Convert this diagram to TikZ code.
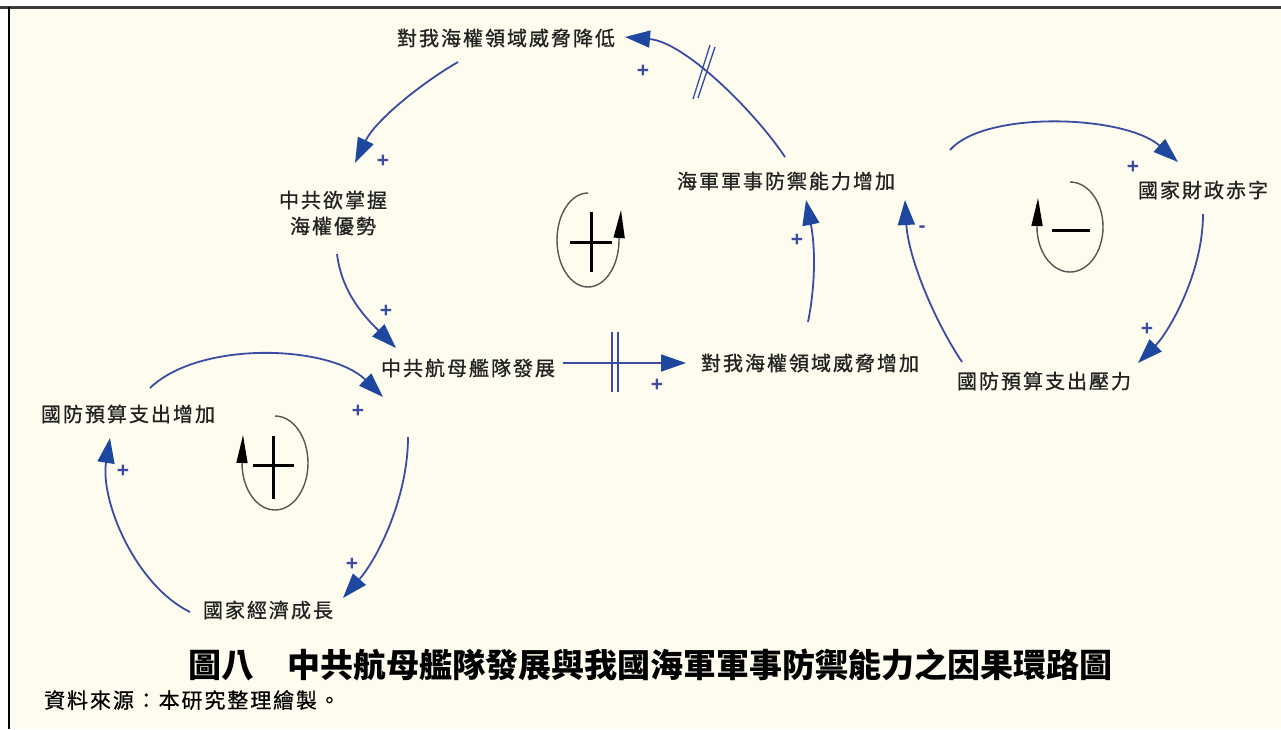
\documentclass[tikz,border=0pt]{standalone}
\usepackage{fontspec}
\usetikzlibrary{arrows.meta}
\newfontfamily\lblfont[LetterSpace=10,FakeBold=0.9]{Noto Sans CJK TC}
\newfontfamily\ttlfont{Noto Sans CJK TC}
\newfontfamily\srcfont[LetterSpace=9,FakeBold=0.6]{Noto Sans CJK TC}
\newfontfamily\signfont{Liberation Sans}
\definecolor{bgcream}{RGB}{254,252,238}
\definecolor{arrowblue}{RGB}{58,76,164}
\definecolor{headblue}{RGB}{30,72,160}
\definecolor{txtgray}{RGB}{34,34,34}
\definecolor{loopgray}{RGB}{85,85,85}
\definecolor{framegray}{RGB}{60,60,60}
\tikzset{
  lbl/.style={font=\lblfont\fontsize{20}{26}\selectfont, text=txtgray, inner sep=0pt, align=center},
  conn/.style={draw=arrowblue, line width=1.8pt, -{Triangle[length=25pt,width=17pt,color=headblue]}},
  polsign/.style={font=\signfont\bfseries\fontsize{21}{21}\selectfont, text=arrowblue, inner sep=0pt},
  loopln/.style={draw=loopgray, line width=1.4pt, -{Triangle[length=28pt,width=11pt,color=black]}},
  barln/.style={draw=black, line width=3pt},
  delayln/.style={draw=arrowblue, line width=1.3pt}
}
\begin{document}
\begin{tikzpicture}[x=1pt,y=-1pt]
\useasboundingbox (0,0) rectangle (1281,729);
\fill[white] (0,0) rectangle (1281,729);
\fill[bgcream] (10,7) rectangle (1281,729);
\draw[line width=3pt, framegray] (0,7) -- (1281,7);
\draw[line width=2pt, black] (9,7) -- (9,729);

% variables
\node[lbl] (A) at (506,38) {對我海權領域威脅降低};
\node[lbl] (B) at (333,213) {中共欲掌握\\海權優勢};
\node[lbl] (C) at (786,181) {海軍軍事防禦能力增加};
\node[lbl] (D) at (1203,190) {國家財政赤字};
\node[lbl] (E) at (1044,381) {國防預算支出壓力};
\node[lbl] (F) at (810,363) {對我海權領域威脅增加};
\node[lbl] (G) at (468,368) {中共航母艦隊發展};
\node[lbl] (H) at (128,414) {國防預算支出增加};
\node[lbl] (I) at (268,610) {國家經濟成長};

% connectors
\draw[conn] ([shift={(-48,24)}]A.center) .. controls +(-38,22) and +(20,-42) .. ([shift={(22,-50)}]B.center);
\draw[conn] ([shift={(4,41)}]B.center) .. controls +(5,40) and +(-30,-30) .. ([shift={(-72,-20)}]G.center);
\draw[conn] ([shift={(95,-5)}]G.center) -- ([shift={(-124,0)}]F.center);
\draw[conn] ([shift={(-2,-41)}]F.center) .. controls +(8,-40) and +(9,45) .. ([shift={(20,19)}]C.center);
\draw[conn] ([shift={(-1,-24)}]C.center) .. controls +(-30,-45) and +(60,5) .. ([shift={(119,-1)}]A.center);
\draw[conn] ([shift={(-82,-19)}]E.center) .. controls +(-30,-45) and +(3,55) .. ([shift={(119,19)}]C.center);
\draw[conn] ([shift={(164,-31)}]C.center) .. controls +(35,-40) and +(-53,-47) .. ([shift={(-25,-28)}]D.center);
\draw[conn] ([shift={(0,24)}]D.center) .. controls +(0,60) and +(30,-30) .. ([shift={(94,-18)}]E.center);
\draw[conn] ([shift={(22,-26)}]H.center) .. controls +(50,-48) and +(-53,-52) .. ([shift={(-85,29)}]G.center);
\draw[conn] ([shift={(-60,69)}]G.center) .. controls +(0,60) and +(35,-40) .. ([shift={(75,-12)}]I.center);
\draw[conn] ([shift={(-78,2)}]I.center) .. controls +(-55,-27) and +(-10,62) .. ([shift={(-18,24)}]H.center);

% delay marks
\draw[delayln] (612,332) -- (612,392);
\draw[delayln] (618,332) -- (618,392);
\draw[delayln] (693,99) -- (710,45);
\draw[delayln] (698,98) -- (715,47);

% polarities
\node[polsign] (p1) at (383,161) {+};
\node[polsign] (p2) at (386,311) {+};
\node[polsign] (p3) at (657,385) {+};
\node[polsign] (p4) at (797,240) {+};
\node[polsign] (p5) at (643,71) {+};
\node[polsign] (p6) at (922,229) {-};
\node[polsign] (p7) at (1133,167) {+};
\node[polsign] (p8) at (1147,329) {+};
\node[polsign] (p9) at (358,411) {+};
\node[polsign] (p10) at (352,564) {+};
\node[polsign] (p11) at (123,471) {+};

% loop symbols
\draw[loopln] (588,193) arc[start angle=90,end angle=360,x radius=31pt,y radius=47pt] -- ++(2,-30);
\draw[barln] (570,242) -- (612,242);
\draw[barln] (591,212) -- (591,272);

\draw[loopln] (1070,182) arc[start angle=90,end angle=-180,x radius=33pt,y radius=45pt] -- ++(1,-29);
\draw[barln] (1052,230) -- (1090,230);

\draw[loopln] (275,416) arc[start angle=90,end angle=-180,x radius=33pt,y radius=47pt] -- ++(1,-28);
\draw[barln] (253,465) -- (294,465);
\draw[barln] (273,436) -- (273,499);

% caption
\node[font=\ttlfont\bfseries\fontsize{33}{40}\selectfont, text=black, inner sep=0pt] (title) at (650,665) {圖八　中共航母艦隊發展與我國海軍軍事防禦能力之因果環路圖};
\node[anchor=west, font=\srcfont\fontsize{21}{26}\selectfont, text=black, inner sep=0pt] (src) at (44,700) {資料來源：本研究整理繪製。};
\end{tikzpicture}
\end{document}
